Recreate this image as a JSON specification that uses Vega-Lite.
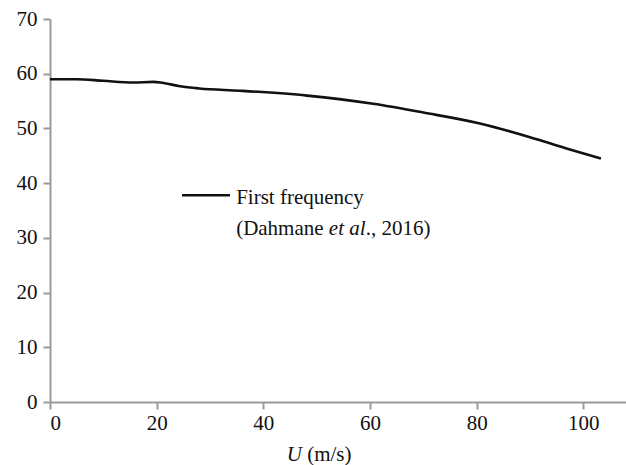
{
  "$schema": "https://vega.github.io/schema/vega-lite/v6.json",
  "width": 576,
  "height": 383,
  "autosize": {"type": "none"},
  "padding": {"left": 50, "top": 19, "right": 0, "bottom": 63},
  "background": "white",
  "config": {
    "view": {"stroke": null},
    "font": "'Times New Roman', 'Liberation Serif', serif",
    "text": {"font": "'Times New Roman', 'Liberation Serif', serif", "fontSize": 21, "color": "#111"},
    "axis": {
      "grid": false,
      "domainColor": "#9a9a9a",
      "domainWidth": 2,
      "tickColor": "#9a9a9a",
      "tickWidth": 2,
      "tickSize": 7,
      "labelFont": "'Times New Roman', 'Liberation Serif', serif",
      "labelFontSize": 21,
      "labelColor": "#111",
      "title": null
    }
  },
  "datasets": {
    "frequency": [
      {"U": 0, "f": 59.0},
      {"U": 5, "f": 59.0},
      {"U": 10, "f": 58.7},
      {"U": 15.6, "f": 58.4},
      {"U": 19.4, "f": 58.5},
      {"U": 21, "f": 58.35},
      {"U": 24.4, "f": 57.7},
      {"U": 28, "f": 57.3},
      {"U": 35.6, "f": 56.9},
      {"U": 48.2, "f": 56.0},
      {"U": 60.6, "f": 54.5},
      {"U": 70, "f": 52.9},
      {"U": 80.6, "f": 50.9},
      {"U": 90, "f": 48.4},
      {"U": 97, "f": 46.3},
      {"U": 103.3, "f": 44.5}
    ],
    "one": [{}]
  },
  "layer": [
    {
      "data": {"name": "frequency"},
      "mark": {"type": "line", "color": "#111", "strokeWidth": 2.6, "interpolate": "monotone"},
      "encoding": {
        "x": {
          "field": "U", "type": "quantitative",
          "scale": {"domain": [0, 108], "nice": false},
          "axis": {"values": [0, 20, 40, 60, 80, 100], "labelPadding": 3}
        },
        "y": {
          "field": "f", "type": "quantitative",
          "scale": {"domain": [0, 70], "nice": false},
          "axis": {"values": [0, 10, 20, 30, 40, 50, 60, 70], "labelPadding": 6}
        }
      }
    },
    {
      "data": {"name": "one"},
      "mark": {"type": "rule", "color": "#111", "strokeWidth": 2.6},
      "encoding": {
        "x": {"datum": 24.75, "type": "quantitative"},
        "x2": {"datum": 33.75},
        "y": {"datum": 37.8, "type": "quantitative"}
      }
    },
    {
      "data": {"name": "one"},
      "mark": {"type": "text", "text": "First frequency", "align": "left", "baseline": "alphabetic"},
      "encoding": {
        "x": {"datum": 34.9, "type": "quantitative"},
        "y": {"datum": 36.1, "type": "quantitative"}
      }
    },
    {
      "data": {"name": "one"},
      "mark": {"type": "text", "text": "(Dahmane", "align": "left", "baseline": "alphabetic"},
      "encoding": {
        "x": {"datum": 34.9, "type": "quantitative"},
        "y": {"datum": 30.6, "type": "quantitative"}
      }
    },
    {
      "data": {"name": "one"},
      "mark": {"type": "text", "text": "et al", "align": "left", "baseline": "alphabetic", "fontStyle": "italic", "dx": 92.7},
      "encoding": {
        "x": {"datum": 34.9, "type": "quantitative"},
        "y": {"datum": 30.6, "type": "quantitative"}
      }
    },
    {
      "data": {"name": "one"},
      "mark": {"type": "text", "text": "., 2016)", "align": "left", "baseline": "alphabetic", "dx": 129.5},
      "encoding": {
        "x": {"datum": 34.9, "type": "quantitative"},
        "y": {"datum": 30.6, "type": "quantitative"}
      }
    },
    {
      "data": {"name": "one"},
      "mark": {"type": "text", "text": "U", "align": "left", "baseline": "alphabetic", "fontStyle": "italic"},
      "encoding": {
        "x": {"datum": 44.4, "type": "quantitative"},
        "y": {"datum": -10.7, "type": "quantitative"}
      }
    },
    {
      "data": {"name": "one"},
      "mark": {"type": "text", "text": "(m/s)", "align": "left", "baseline": "alphabetic", "dx": 20.4},
      "encoding": {
        "x": {"datum": 44.4, "type": "quantitative"},
        "y": {"datum": -10.7, "type": "quantitative"}
      }
    }
  ]
}
